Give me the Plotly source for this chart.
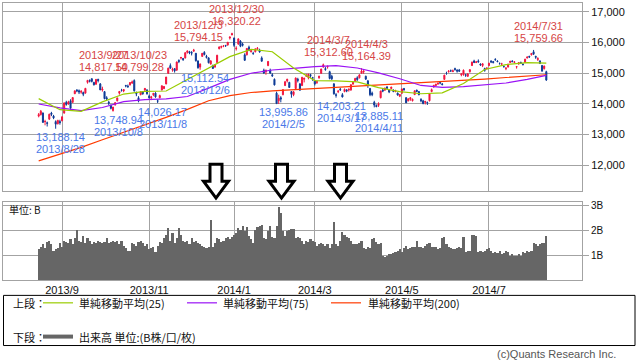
import plotly.graph_objects as go
import pandas as pd

# ---------------- data ----------------
holidays = ['2013-09-16', '2013-09-23', '2013-10-14', '2013-11-04', '2013-12-23', '2013-12-31',
            '2014-01-01', '2014-01-02', '2014-01-03', '2014-01-13', '2014-02-11', '2014-03-21',
            '2014-04-29', '2014-05-05', '2014-05-06', '2014-07-21']
dates = pd.bdate_range('2013-08-16', '2014-08-08', freq='C', holidays=holidays)

opens = [
    13600, 13650, 13700, 13420, 13380, 13500, 13700, 13600, 13420, 13350, 13420,
    13450, 13700, 14050, 14000, 14100, 14050, 14330, 14450, 14430, 14380, 14370, 14350, 14700, 14760, 14820, 14700, 14640, 14800, 14650,
    14450, 14400, 14200, 14050, 13950, 13780, 13970, 14100, 14350, 14450, 14420, 14600, 14580, 14620, 14680, 14760, 14350, 14200, 14300, 14400, 14450, 14450,
    14250, 14200, 14300, 14350, 14100, 14200, 14450, 14500, 14650, 15000, 15250, 15100, 15150, 15100, 15420, 15500, 15480, 15500, 15680, 15700,
    15680, 15720, 15650, 15400, 15200, 15550, 15680, 15550, 15500, 15300, 15250, 15200, 15350, 15800, 15850, 15880, 15910, 15920, 16150, 16250,
    16150, 15800, 15950, 16050, 15950, 15600, 15600, 15850, 15700, 15650, 15700, 15800, 15750, 15500, 15100, 15050, 15250, 15100, 14950,
    14800, 14350, 14100, 14200, 14300, 14600, 14750, 14700, 14400, 14300, 14500, 14800, 14650, 14600, 14800, 14900, 14850, 14950, 14850,
    14750, 14700, 14850, 15000, 15200, 15150, 15200, 15050, 14900, 14650, 14300, 14400, 14480, 14300, 14400, 14450, 14450, 14450, 14650, 14750,
    14850, 14850, 15000, 15050, 14900, 14750, 14500, 14350, 14050, 13950, 13950, 14200, 14450, 14450, 14550, 14450, 14500, 14450, 14400, 14350, 14250,
    14350, 14500, 14200, 14100, 14150, 14100, 14300, 14450, 14400, 14150, 14100, 14050, 14050, 14100, 14400, 14550, 14600, 14650, 14700, 14650,
    14800, 15000, 15050, 15080, 15050, 15150, 15100, 15100, 14950, 14950, 14950, 14900, 15050, 15250, 15400, 15350, 15400, 15300, 15250, 15150, 15150,
    15250, 15400, 15380, 15450, 15400, 15320, 15300, 15220, 15150, 15200, 15350, 15400, 15350, 15200, 15300, 15350, 15300, 15350, 15500, 15550, 15600, 15700,
    15550, 15450, 15400, 15250, 15150, 15050]
highs = [
    13700, 13800, 13720, 13480, 13420, 13680, 13740, 13640, 13460, 13480, 13480,
    13600, 14050, 14100, 14100, 14150, 14220, 14440, 14480, 14470, 14450, 14400, 14520, 14780, 14800, 14830, 14720, 14810, 14818, 14680,
    14560, 14420, 14250, 14100, 13980, 13900, 14060, 14200, 14420, 14490, 14480, 14620, 14630, 14710, 14760, 14799, 14400, 14250, 14400, 14420, 14520, 14480,
    14300, 14260, 14360, 14380, 14150, 14300, 14600, 14580, 14880, 15180, 15320, 15180, 15160, 15380, 15450, 15530, 15500, 15680, 15740, 15730,
    15720, 15794, 15660, 15420, 15320, 15660, 15720, 15600, 15520, 15420, 15280, 15300, 15600, 15870, 15900, 15920, 15920, 16020, 16200, 16320,
    16160, 15880, 16130, 16080, 16000, 15650, 15820, 15900, 15760, 15700, 15800, 15850, 15800, 15550, 15150, 15120, 15400, 15150, 15000,
    14830, 14400, 14300, 14250, 14480, 14750, 14820, 14720, 14420, 14420, 14860, 14850, 14680, 14880, 14850, 14980, 14980, 14980, 14880,
    14780, 14760, 14920, 15150, 15313, 15200, 15250, 15080, 14950, 14680, 14350, 14450, 14520, 14350, 14500, 14480, 14500, 14640, 14720, 14850,
    14900, 14960, 15164, 15100, 14920, 14780, 14520, 14400, 14100, 13980, 14050, 14430, 14500, 14530, 14580, 14470, 14560, 14470, 14460, 14370, 14320,
    14500, 14520, 14220, 14180, 14220, 14170, 14440, 14460, 14420, 14180, 14130, 14100, 14070, 14350, 14500, 14620, 14660, 14700, 14720, 14680,
    14950, 15050, 15100, 15120, 15120, 15180, 15130, 15140, 15000, 15120, 14980, 15000, 15130, 15380, 15440, 15400, 15450, 15320, 15330, 15180, 15200,
    15340, 15420, 15400, 15490, 15420, 15350, 15340, 15250, 15200, 15310, 15400, 15420, 15390, 15230, 15360, 15380, 15320, 15470, 15540, 15570, 15660, 15760,
    15570, 15520, 15420, 15270, 15250, 15080]
lows = [
    13560, 13620, 13380, 13300, 13260, 13480, 13600, 13500, 13188, 13330, 13320,
    13430, 13680, 13940, 13970, 13800, 14030, 14320, 14380, 14320, 14330, 14250, 14340, 14660, 14700, 14700, 14600, 14630, 14700, 14450,
    14400, 14150, 14100, 13960, 13820, 13749, 13940, 14080, 14300, 14400, 14380, 14540, 14520, 14600, 14650, 14400, 14250, 14050, 14280, 14300, 14420, 14300,
    14170, 14120, 14250, 14200, 14026, 14180, 14440, 14480, 14640, 14980, 15150, 15050, 15020, 15080, 15330, 15450, 15400, 15480, 15640, 15620,
    15580, 15700, 15380, 15150, 15113, 15530, 15580, 15480, 15320, 15280, 15140, 15180, 15340, 15780, 15810, 15850, 15860, 15900, 16100, 16240,
    15860, 15740, 15930, 15850, 15870, 15400, 15580, 15720, 15680, 15600, 15680, 15760, 15670, 15380, 14980, 14950, 15230, 14980, 14880,
    14600, 14008, 13996, 14050, 14280, 14580, 14700, 14520, 14200, 14250, 14480, 14700, 14420, 14580, 14700, 14880, 14800, 14850, 14750,
    14600, 14650, 14820, 14980, 15180, 15080, 15150, 14800, 14780, 14300, 14203, 14350, 14420, 14210, 14380, 14380, 14400, 14430, 14620, 14720,
    14750, 14830, 14990, 14980, 14780, 14520, 14250, 14250, 13885, 13890, 13900, 14180, 14380, 14420, 14470, 14350, 14480, 14380, 14380, 14270, 14220,
    14330, 14430, 14030, 14080, 14100, 14080, 14290, 14380, 14280, 14050, 13990, 13980, 13964, 14080, 14380, 14530, 14580, 14620, 14640, 14600,
    14780, 14950, 15020, 15040, 15040, 15080, 15020, 15040, 14900, 14920, 14880, 14880, 15020, 15240, 15330, 15330, 15340, 15240, 15200, 15050, 15120,
    15230, 15330, 15320, 15410, 15360, 15280, 15270, 15180, 15100, 15190, 15330, 15360, 15330, 15150, 15280, 15300, 15250, 15340, 15480, 15500, 15580, 15600,
    15470, 15400, 15300, 15060, 15120, 14750]
closes = [
    13650, 13758, 13396, 13424, 13365, 13660, 13657, 13542, 13338, 13459, 13389,
    13573, 14028, 13978, 14065, 13861, 14205, 14423, 14425, 14387, 14405, 14312, 14505, 14766, 14742, 14733, 14621, 14799, 14760, 14456,
    14485, 14170, 14157, 14024, 13853, 13895, 14038, 14195, 14405, 14441, 14467, 14587, 14562, 14694, 14713, 14426, 14326, 14088, 14396, 14326, 14502, 14328,
    14202, 14225, 14337, 14228, 14087, 14270, 14589, 14567, 14876, 15166, 15164, 15127, 15076, 15366, 15382, 15515, 15450, 15670, 15727, 15662,
    15655, 15750, 15408, 15177, 15300, 15650, 15611, 15515, 15342, 15403, 15153, 15278, 15586, 15859, 15870, 15889, 15896, 16010, 16179, 16291,
    15909, 15814, 16121, 15880, 15912, 15422, 15809, 15747, 15734, 15642, 15796, 15821, 15696, 15392, 15006, 15094, 15384, 15007, 14915,
    14619, 14008, 14180, 14155, 14462, 14718, 14800, 14535, 14313, 14393, 14843, 14767, 14450, 14866, 14838, 14923, 14971, 14923, 14841,
    14652, 14721, 14898, 15135, 15274, 15120, 15224, 14830, 14816, 14328, 14278, 14411, 14463, 14224, 14475, 14423, 14477, 14623, 14696, 14828,
    14792, 14946, 15072, 15064, 14809, 14607, 14300, 14300, 13960, 13910, 13997, 14418, 14418, 14516, 14512, 14389, 14546, 14405, 14429, 14288, 14304,
    14485, 14458, 14033, 14164, 14200, 14150, 14425, 14406, 14298, 14097, 14006, 14075, 14042, 14338, 14462, 14603, 14637, 14671, 14682, 14632,
    14936, 14995, 15069, 15079, 15077, 15124, 15069, 15069, 14974, 15098, 14933, 14976, 15116, 15361, 15349, 15369, 15376, 15267, 15308, 15095, 15162,
    15326, 15370, 15348, 15437, 15379, 15315, 15303, 15216, 15164, 15297, 15395, 15379, 15370, 15216, 15343, 15329, 15284, 15458, 15529, 15531, 15646, 15621,
    15523, 15475, 15320, 15067, 15232, 14778]
volume_b = [
    1.27, 1.35, 1.45, 1.3, 1.55, 1.6, 1.45, 1.2, 1.25, 1.3, 1.5,
    1.35, 1.6, 1.55, 1.5, 1.65, 1.45, 1.7, 2.05, 1.6, 1.55, 1.8, 1.5, 1.7, 1.6, 1.45, 1.55, 1.5, 1.6, 1.55,
    1.5, 1.55, 1.7, 1.5, 1.55, 1.6, 1.55, 1.6, 1.45, 1.6, 1.4, 1.3, 1.2, 1.2, 1.5, 1.45, 1.4, 1.55, 1.6, 1.5, 1.4, 1.45,
    1.25, 1.3, 1.35, 1.15, 1.4, 1.55, 1.5, 1.7, 1.85, 2.1, 1.6, 1.9, 1.5, 1.7, 2.1, 1.85, 1.6, 1.55, 1.6, 1.45,
    1.7, 1.55, 1.6, 1.5, 1.45, 1.4, 1.35, 1.3, 1.35, 2.45, 1.35, 1.5, 1.7, 1.65, 1.55, 1.6, 1.7, 1.75, 1.65, 1.75,
    1.85, 1.9, 2.1, 2.05, 2.2, 2.0, 2.15, 1.8, 1.65, 1.5, 2.05, 2.15, 2.2, 2.25, 1.7, 1.65, 2.0, 2.2, 1.75,
    1.7, 2.2, 2.95, 2.7, 2.0, 1.8, 2.0, 2.05, 2.07, 2.07, 1.7, 1.75, 1.7, 1.6, 1.45, 1.6, 1.55, 1.65, 1.6,
    1.55, 1.4, 1.45, 1.5, 1.45, 1.4, 1.45, 1.3, 1.45, 2.35, 1.45, 1.4, 1.6, 1.95, 1.85, 1.75, 1.7, 1.6, 1.45, 1.45,
    1.45, 1.5, 1.6, 1.3, 1.25, 1.35, 1.3, 1.65, 1.7, 1.55, 1.45, 1.5, 1.0, 0.95, 1.0, 1.05, 1.05, 1.1, 1.15, 1.2, 1.25,
    1.15, 1.3, 1.4, 1.25, 1.3, 1.35, 1.35, 1.6, 1.35, 1.35, 1.3, 1.4, 1.45, 1.5, 1.35, 1.35, 1.35, 1.25, 1.3, 1.7,
    1.75, 1.45, 1.35, 1.3, 1.25, 1.25, 1.3, 1.35, 1.3, 1.75, 1.15, 1.2, 1.2, 1.85, 1.85, 1.8, 1.15, 1.2, 1.15, 1.2, 1.25,
    1.3, 1.2, 1.1, 1.15, 1.1, 1.2, 1.05, 1.1, 1.2, 1.15, 1.0, 1.05, 1.0, 1.0, 1.05, 1.0, 1.15, 1.1, 1.2, 1.15, 1.2, 1.5,
    1.45, 1.4, 1.45, 1.5, 1.5, 1.8]

# moving averages every 10 trading days
ma_index = [0, 10, 20, 30, 40, 50, 60, 70, 80, 90, 100, 110, 120, 130, 140, 150, 160, 170, 180, 190, 200, 210, 220, 230, 239]
ma25 = [14170, 13810, 13755, 14065, 14320, 14405, 14420, 14790, 15160, 15540, 15780, 15700, 15170, 14760, 14750, 14720,
        14530, 14400, 14330, 14360, 14665, 15120, 15280, 15345, 15330]
ma75 = [13995, 13870, 13780, 13880, 14070, 14135, 14165, 14240, 14515, 14800, 15000, 15105, 15160, 15215, 15245, 15170,
        15010, 14820, 14600, 14535, 14560, 14610, 14680, 14800, 14930]
ma200 = [12140, 12360, 12580, 12830, 13070, 13310, 13560, 13820, 14100, 14270, 14370, 14425, 14470, 14505, 14540, 14580,
         14620, 14650, 14675, 14720, 14770, 14810, 14860, 14910, 14950]

high_labels = [('2013-09-27', '14,817.50'), ('2013-10-23', '14,799.28'), ('2013-12-03', '15,794.15'),
               ('2013-12-30', '16,320.22'), ('2014-03-07', '15,312.60'), ('2014-04-03', '15,164.39'),
               ('2014-07-31', '15,759.66')]
low_labels = [('2013-08-28', '13,188.14'), ('2013-10-08', '13,748.94'), ('2013-11-08', '14,026.17'),
              ('2013-12-06', '15,112.54'), ('2014-02-05', '13,995.86'), ('2014-03-17', '14,203.21'),
              ('2014-04-11', '13,885.11')]

tick_months = ['2013/9', '2013/11', '2014/1', '2014/3', '2014/5', '2014/7']
price_ticks = [12000, 13000, 14000, 15000, 16000, 17000]
vol_ticks = [1, 2, 3]
vol_tick_text = ['1B', '2B', '3B']

n = len(dates)
assert n == 240
for arr in (opens, highs, lows, closes, volume_b):
    assert len(arr) == n, len(arr)

# ---------------- styling ----------------
FONT = 'Noto Sans CJK JP'
NUMFONT = 'Liberation Sans'
RED = '#f2153f'
BLUE = '#0d3a96'
GREEN = '#99cc00'
PURPLE = '#9a12f5'
ORANGE = '#ff3a00'
GRID = '#a3a3a3'
LBL_RED = '#d64545'
LBL_BLUE = '#4a78e8'

W, H = 638, 362
PL, PR, PT, PB = 3, 582, 1, 280  # plot area in pixels


def X(p):
    return (p - PL) / (PR - PL)


def Y(p):
    return (PB - p) / (PB - PT)


xi = list(range(n))
pos = {d.strftime('%Y-%m-%d'): i for i, d in enumerate(dates)}
month_idx = []
for t in tick_months:
    yy, mm = t.split('/')
    month_idx.append(next(i for i, d in enumerate(dates) if d.year == int(yy) and d.month == int(mm)))

xr = [-16.8, 255.8]

fig = go.Figure()
fig.add_trace(go.Candlestick(
    x=xi, open=opens, high=highs, low=lows, close=closes,
    increasing=dict(line=dict(color=RED, width=1), fillcolor=RED),
    decreasing=dict(line=dict(color=BLUE, width=1), fillcolor=BLUE),
    whiskerwidth=0, xaxis='x', yaxis='y', hoverinfo='skip'))
for vals, col in ((ma200, ORANGE), (ma75, PURPLE), (ma25, GREEN)):
    fig.add_trace(go.Scatter(x=ma_index, y=vals, mode='lines', line=dict(color=col, width=1.2),
                             xaxis='x', yaxis='y', hoverinfo='skip'))
fig.add_trace(go.Bar(x=xi, y=volume_b, marker=dict(color='#666666', line=dict(width=0)),
                     xaxis='x2', yaxis='y2', hoverinfo='skip'))

ann = []
lblfont_r = dict(family=NUMFONT, size=11, color=LBL_RED)
lblfont_b = dict(family=NUMFONT, size=11, color=LBL_BLUE)


def dtext(s):
    d = pd.Timestamp(s)
    return f'{d.year}/{d.month}/{d.day}'


for d, v in high_labels:
    val = float(v.replace(',', ''))
    ann.append(dict(x=pos[d], y=val, xref='x', yref='y', text=dtext(d), showarrow=False,
                    xanchor='center', yanchor='middle', yshift=24, xshift=5, font=lblfont_r))
    ann.append(dict(x=pos[d], y=val, xref='x', yref='y', text=v, showarrow=False,
                    xanchor='center', yanchor='middle', yshift=12, xshift=5, font=lblfont_r))
for d, v in low_labels:
    val = float(v.replace(',', ''))
    ann.append(dict(x=pos[d], y=val, xref='x', yref='y', text=v, showarrow=False,
                    xanchor='center', yanchor='middle', yshift=-8.5, xshift=5, font=lblfont_b))
    ann.append(dict(x=pos[d], y=val, xref='x', yref='y', text=dtext(d), showarrow=False,
                    xanchor='center', yanchor='middle', yshift=-20.5, xshift=5, font=lblfont_b))


def ptext(text, px_, py_, anchor='left', size=11, color='#111111', family=FONT):
    ann.append(dict(x=X(px_), y=Y(py_), xref='paper', yref='paper', text=text, showarrow=False,
                    xanchor=anchor, yanchor='middle', font=dict(family=family, size=size, color=color)))


ptext('単位: B', 7, 209, size=10)
ptext('上段：', 11, 303)
ptext('単純移動平均(25)', 77, 303)
ptext('単純移動平均(75)', 221, 303)
ptext('単純移動平均(200)', 366, 303)
ptext('下段：', 11, 337)
ptext('出来高 単位:(B株/口/枚)', 77, 337)
ptext('(c)Quants Research Inc.', 618, 355, anchor='right', color='#555555', family=NUMFONT)

shapes = []
# legend box and samples
shapes.append(dict(type='rect', xref='paper', yref='paper', x0=X(3.5), x1=X(635), y0=Y(346), y1=Y(295.5),
                   line=dict(color='#000000', width=1), fillcolor='rgba(0,0,0,0)', layer='above'))
for (a, b, yy, col, w) in ((43, 73, 303, GREEN, 1.2), (187, 217, 303, PURPLE, 1.2),
                           (331, 361, 303, ORANGE, 1.2), (43, 73, 337, '#666666', 4)):
    shapes.append(dict(type='line', xref='paper', yref='paper', x0=X(a), x1=X(b), y0=Y(yy), y1=Y(yy),
                       line=dict(color=col, width=w), layer='above'))

# hollow down arrows
for cx in (216, 281.5, 340.5):
    top, neck, tip, sw, hw = 163.5, 180.5, 197.5, 6, 12.5
    pts = [(cx - sw, top), (cx + sw, top), (cx + sw, neck), (cx + hw, neck), (cx, tip),
           (cx - hw, neck), (cx - sw, neck)]
    path = 'M ' + ' L '.join(f'{X(a):.5f},{Y(b):.5f}' for a, b in pts) + ' Z'
    shapes.append(dict(type='path', xref='paper', yref='paper', path=path,
                       fillcolor='white', line=dict(color='black', width=3), layer='above'))

axcommon = dict(showline=True, mirror=True, linecolor=GRID, linewidth=1, gridcolor=GRID, gridwidth=1,
                zeroline=False, fixedrange=True)
numtick = dict(family=NUMFONT, size=11, color='#111111')
fig.update_layout(
    width=W, height=H,
    margin=dict(l=PL, r=W - PR, t=PT, b=H - PB),
    paper_bgcolor='white', plot_bgcolor='white',
    showlegend=False, bargap=0,
    font=dict(family=FONT, size=11, color='#111111'),
    xaxis=dict(domain=[0, 1], anchor='y', range=xr, tickvals=month_idx, showticklabels=False,
               showgrid=True, ticks='', rangeslider=dict(visible=False), **axcommon),
    yaxis=dict(domain=[Y(190), 1], anchor='x', side='right', range=[11167, 17292], tickvals=price_ticks,
               tickformat=',d', ticks='outside', ticklen=6, tickcolor=GRID, showgrid=True,
               tickfont=numtick, **axcommon),
    xaxis2=dict(domain=[0, 1], anchor='y2', range=xr, tickvals=month_idx, ticktext=tick_months,
                showgrid=True, ticks='', tickfont=numtick, **axcommon),
    yaxis2=dict(domain=[0, Y(201)], anchor='x2', side='right', range=[0, 3.16], tickvals=vol_ticks,
                ticktext=vol_tick_text, ticks='outside', ticklen=6, tickcolor=GRID, showgrid=True,
                tickfont=dict(family=NUMFONT, size=10, color='#111111'), **axcommon),
    annotations=ann, shapes=shapes,
)

fig.write_html('out.html', config={'displayModeBar': False},
               post_script="document.body.style.margin='0px';document.body.style.overflow='hidden';")
